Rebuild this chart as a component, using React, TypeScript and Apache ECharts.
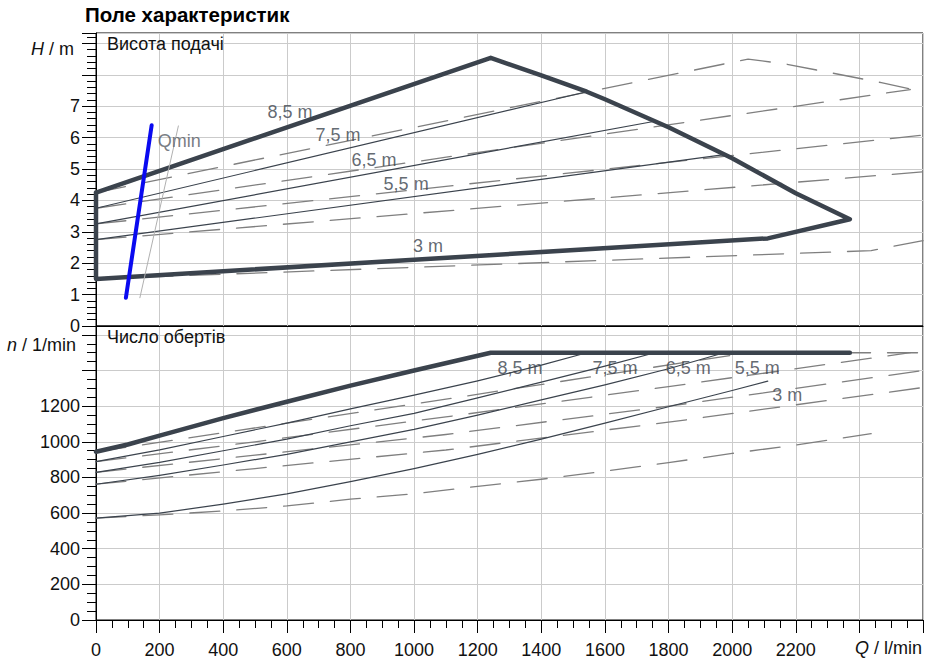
import React, { useEffect, useRef } from 'react';
import * as echarts from 'echarts';

// ---------- data (Q in l/min) ----------
// Top panel: delivery head H (m)
const headMax: number[][] = [[0, 4.25], [1241, 8.54], [1400, 7.98], [1543, 7.46], [1600, 7.22], [1757, 6.52], [1800, 6.33], [2000, 5.34], [2200, 4.23], [2370, 3.4]];
const head3: number[][] = [[0, 1.5], [1000, 2.11], [2112, 2.79], [2370, 3.4]];
const head75: number[][] = [[0, 3.75], [1543, 7.46]];
const head65: number[][] = [[0, 3.25], [1757, 6.52]];
const head55: number[][] = [[0, 2.75], [1975, 5.46]];

const headMaxD: number[][] = [[0, 4.25], [2050, 8.5], [2170, 8.34], [2317, 8.05], [2469, 7.75], [2600, 7.46]];
const head75D: number[][] = [[0, 3.75], [2560, 7.53]];
const head65D: number[][] = [[0, 3.25], [2600, 6.08]];
const head55D: number[][] = [[0, 2.75], [2600, 4.91]];
const head3D: number[][] = [[0, 1.5], [2437, 2.4], [2600, 2.72]];

const qMin: number[][] = [[94, 0.9], [175, 6.39]];
const qMinD: number[][] = [[138, 0.9], [259, 6.37]];

// Bottom panel: speed n (1/min)
const speedMax: number[][] = [[0, 944], [100, 985], [200, 1035], [400, 1133], [600, 1225], [800, 1315], [1000, 1400], [1241, 1500], [2370, 1500]];
const speed75: number[][] = [[0, 889], [200, 955], [400, 1030], [600, 1105], [800, 1185], [1000, 1262], [1200, 1342], [1400, 1430], [1543, 1500]];
const speed65: number[][] = [[0, 829], [200, 885], [400, 950], [600, 1015], [800, 1090], [1000, 1160], [1200, 1247], [1400, 1335], [1600, 1425], [1757, 1500]];
const speed55: number[][] = [[0, 762], [200, 812], [400, 870], [600, 930], [800, 1000], [1000, 1070], [1200, 1150], [1400, 1235], [1600, 1320], [1800, 1410], [1975, 1500]];
const speed3: number[][] = [[0, 572], [200, 600], [400, 650], [600, 708], [800, 777], [1000, 850], [1200, 930], [1400, 1015], [1600, 1105], [1800, 1197], [2000, 1288], [2112, 1341]];

const speedMaxD: number[][] = [[0, 944], [1000, 1212], [2050, 1500], [2600, 1500]];
const speed75D: number[][] = [[0, 889], [500, 1000], [1100, 1140], [1800, 1310], [2560, 1500]];
const speed65D: number[][] = [[0, 829], [500, 925], [1100, 1041], [1800, 1200], [2600, 1400]];
const speed55D: number[][] = [[0, 762], [500, 850], [1100, 954], [1800, 1110], [2600, 1305]];
const speed3D: number[][] = [[0, 572], [200, 590], [400, 612], [600, 640], [800, 678], [1000, 708], [1200, 750], [1400, 790], [1600, 835], [1800, 883], [2000, 935], [2200, 982], [2437, 1046]];

// curve labels [Q, value, text]
const headLabels: [number, number, string][] = [[610, 6.82, '8,5 m'], [761, 6.08, '7,5 m'], [874, 5.29, '6,5 m'], [975, 4.52, '5,5 m'], [1044, 2.55, '3 m']];
const qMinLabel: [number, number, string][] = [[262, 5.89, 'Qmin']];
const speedLabels: [number, number, string][] = [[1333, 1413, '8,5 m'], [1632, 1413, '7,5 m'], [1862, 1413, '6,5 m'], [2079, 1413, '5,5 m'], [2173, 1262, '3 m']];

// axes
const Q_MAX = 2600;
const Q_STEP = 200;
const Q_LABEL_MAX = 2200;
const H_MAX = 9.33;
const H_LABEL_MAX = 7;
const N_MAX = 1650;
const N_STEP = 200;
const N_LABEL_MAX = 1200;

// ---------- styles ----------
const FONT = '"Liberation Sans", Arial, Helvetica, sans-serif';
const DARK = '#3b434d';
const DASHC = '#7f7f7f';
const GRIDC = '#cbcbcb';
const FS = 18;

type Kind = 'thick' | 'thin' | 'dash' | 'blue' | 'ghost';
const styles: Record<Kind, any> = {
  thick: { color: DARK, width: 4.5, z: 4 },
  thin: { color: DARK, width: 1.2, z: 3 },
  dash: { color: DASHC, width: 1.3, z: 2, type: [30, 17] },
  blue: { color: '#0a0af0', width: 4, z: 6 },
  ghost: { color: '#b0b0b0', width: 1, z: 5 },
};

function line(data: number[][], panel: 0 | 1, kind: Kind) {
  const s = styles[kind];
  return {
    type: 'line',
    xAxisIndex: panel,
    yAxisIndex: panel === 0 ? 0 : 2,
    data,
    symbol: 'none',
    silent: true,
    z: s.z,
    lineStyle: { color: s.color, width: s.width, type: s.type || 'solid', cap: 'round', join: 'round' },
  };
}

function labels(items: [number, number, string][], panel: 0 | 1, color: string) {
  return {
    type: 'scatter',
    xAxisIndex: panel,
    yAxisIndex: panel === 0 ? 0 : 2,
    symbolSize: 1,
    silent: true,
    z: 10,
    itemStyle: { color: 'rgba(0,0,0,0)' },
    label: {
      show: true,
      position: 'inside',
      formatter: '{b}',
      color,
      fontSize: FS,
      fontFamily: FONT,
      align: 'center',
      verticalAlign: 'middle',
    },
    data: items.map(([q, v, t]) => ({ value: [q, v], name: t })),
  };
}

const envelope = [...headMax, ...[...head3].reverse(), headMax[0]];

const axisLineBlack = { show: true, lineStyle: { color: '#000', width: 1 } };
const tickLabel = { fontSize: FS, color: '#111', fontFamily: FONT };

const option: any = {
  animation: false,
  backgroundColor: '#fff',
  grid: [
    { left: 96, right: 8, top: 33, height: 293, show: true, borderColor: '#000', borderWidth: 1, backgroundColor: 'transparent' },
    { left: 96, right: 8, top: 326, height: 294, show: true, borderColor: '#000', borderWidth: 1, backgroundColor: 'transparent' },
  ],
  xAxis: [
    {
      type: 'value', gridIndex: 0, position: 'bottom', min: 0, max: Q_MAX, interval: Q_STEP,
      axisLine: axisLineBlack, axisTick: { show: false }, axisLabel: { show: false },
      splitLine: { show: true, lineStyle: { color: GRIDC, width: 1 } },
    },
    {
      type: 'value', gridIndex: 1, position: 'bottom', min: 0, max: Q_MAX, interval: Q_STEP,
      axisLine: axisLineBlack,
      axisTick: { show: true, length: 13, lineStyle: { color: '#000' } },
      minorTick: { show: true, splitNumber: 4, length: 8, lineStyle: { color: '#000' } },
      axisLabel: { ...tickLabel, margin: 21, formatter: (v: number) => (v <= Q_LABEL_MAX ? String(v) : '') },
      splitLine: { show: true, lineStyle: { color: GRIDC, width: 1 } },
    },
  ],
  yAxis: [
    {
      type: 'value', gridIndex: 0, position: 'left', offset: 0, min: 0, max: H_MAX, interval: 1,
      axisLine: axisLineBlack,
      axisTick: { show: true, length: 14, lineStyle: { color: '#000' } },
      axisLabel: { ...tickLabel, margin: 16, formatter: (v: number) => (Number.isInteger(v) && v <= H_LABEL_MAX ? String(v) : '') },
      splitLine: { show: true, lineStyle: { color: GRIDC, width: 1 } },
    },
    {
      type: 'value', gridIndex: 0, position: 'left', offset: 0, min: 0, max: H_MAX, interval: 0.2,
      axisLine: { show: false },
      axisTick: { show: true, length: 9, lineStyle: { color: '#000' } },
      axisLabel: { show: false }, splitLine: { show: false },
    },
    {
      type: 'value', gridIndex: 1, position: 'left', offset: 0, min: 0, max: N_MAX, interval: N_STEP,
      axisLine: axisLineBlack,
      axisTick: { show: true, length: 14, lineStyle: { color: '#000' } },
      axisLabel: { ...tickLabel, margin: 16, formatter: (v: number) => (v % N_STEP === 0 && v <= N_LABEL_MAX ? String(v) : '') },
      splitLine: { show: true, lineStyle: { color: GRIDC, width: 1 } },
    },
    {
      type: 'value', gridIndex: 1, position: 'left', offset: 0, min: 0, max: N_MAX, interval: 50,
      axisLine: { show: false },
      axisTick: { show: true, length: 9, lineStyle: { color: '#000' } },
      axisLabel: { show: false }, splitLine: { show: false },
    },
  ],
  series: [
    // top panel
    line(headMaxD, 0, 'dash'),
    line(head75D, 0, 'dash'),
    line(head65D, 0, 'dash'),
    line(head55D, 0, 'dash'),
    line(head3D, 0, 'dash'),
    line(head75, 0, 'thin'),
    line(head65, 0, 'thin'),
    line(head55, 0, 'thin'),
    line(envelope, 0, 'thick'),
    line(qMinD, 0, 'ghost'),
    line(qMin, 0, 'blue'),
    labels(headLabels, 0, DARK),
    labels(qMinLabel, 0, '#555b63'),
    // bottom panel
    line(speedMaxD, 1, 'dash'),
    line(speed75D, 1, 'dash'),
    line(speed65D, 1, 'dash'),
    line(speed55D, 1, 'dash'),
    line(speed3D, 1, 'dash'),
    line(speed75, 1, 'thin'),
    line(speed65, 1, 'thin'),
    line(speed55, 1, 'thin'),
    line(speed3, 1, 'thin'),
    line(speedMax, 1, 'thick'),
    labels(speedLabels, 1, DARK),
  ],
  graphic: [
    { type: 'text', left: 85, top: 4, style: { text: 'Поле характеристик', font: `bold 20.5px ${FONT}`, fill: '#000' } },
    { type: 'text', left: 107, top: 35, z: 20, style: { text: 'Висота подачі', font: `${FS}px ${FONT}`, fill: '#111' } },
    { type: 'text', left: 107, top: 328, z: 20, style: { text: 'Число обертів', font: `${FS}px ${FONT}`, fill: '#111' } },
    {
      type: 'text', left: 31, top: 40,
      style: { text: '{i|H} / m', font: `${FS}px ${FONT}`, fill: '#111', rich: { i: { fontStyle: 'italic', fontSize: FS, fontFamily: FONT } } },
    },
    {
      type: 'text', left: 7, top: 336,
      style: { text: '{i|n} / 1/min', font: `${FS}px ${FONT}`, fill: '#111', rich: { i: { fontStyle: 'italic', fontSize: FS, fontFamily: FONT } } },
    },
    {
      type: 'text', right: 9, top: 639,
      style: { text: '{i|Q} / l/min', font: `${FS}px ${FONT}`, fill: '#111', rich: { i: { fontStyle: 'italic', fontSize: FS, fontFamily: FONT } } },
    },
  ],
};

export default function App() {
  const ref = useRef<HTMLDivElement>(null);
  useEffect(() => {
    if (!ref.current) return;
    const chart = echarts.init(ref.current, undefined, { renderer: 'svg' });
    chart.setOption(option);
    return () => chart.dispose();
  }, []);
  return (
    <div
      ref={ref}
      style={{ position: 'fixed', left: 0, top: 0, width: 931, height: 662, background: '#fff' }}
    />
  );
}
